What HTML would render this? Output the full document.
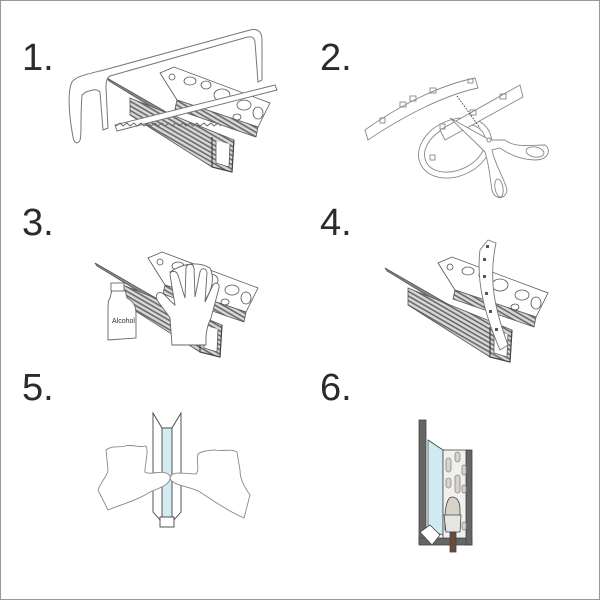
<!DOCTYPE html>
<html><head><style>
html,body{margin:0;padding:0;background:#fff}
svg{display:block}
text{font-family:"Liberation Sans",sans-serif}
</style></head><body>
<svg width="600" height="600" viewBox="0 0 600 600" xmlns="http://www.w3.org/2000/svg">
<defs>
<pattern id="st" width="4" height="4" patternUnits="userSpaceOnUse" patternTransform="rotate(30)">
<rect width="4" height="4" fill="#d8d8d8"/><rect width="4" height="1.6" fill="#6a6a6a"/>
</pattern>
<g id="prof" stroke="#555" stroke-width="0.8">
  <polygon points="95,263 215,332 215,338 97,266" fill="#888"/>
  <polygon points="118,283 222,325 220,357 200,352 118,300" fill="url(#st)"/>
  <polygon points="148,258 162,252 258,288 246,312 165,285" fill="#fff"/>
  <ellipse cx="178" cy="266" rx="6" ry="4" fill="#fff"/>
  <ellipse cx="194" cy="270" rx="5" ry="4" fill="#fff"/>
  <ellipse cx="210" cy="280" rx="8" ry="6" fill="#fff"/>
  <ellipse cx="232" cy="290" rx="7" ry="5" fill="#fff"/>
  <ellipse cx="246" cy="298" rx="5" ry="6" fill="#fff"/>
  <ellipse cx="225" cy="302" rx="4" ry="3" fill="#fff"/>
  <ellipse cx="160" cy="262" rx="3" ry="3" fill="#fff"/>
  <polygon points="165,285 246,312 244,322 163,294" fill="url(#st)"/>
  <path d="M200,322 L200,352 L220,357 L222,325" fill="none" stroke="#444" stroke-width="1.2"/>
  <path d="M204,326 L204,348 L217,352 L218,329" fill="#fff"/>
</g>
</defs>
<rect x="0.5" y="0.5" width="599" height="599" fill="#fff" stroke="#999"/>
<g font-size="38" fill="#2b2b2b">
<text x="22" y="70">1.</text>
<text x="320" y="70">2.</text>
<text x="22" y="235">3.</text>
<text x="320" y="235">4.</text>
<text x="22" y="400">5.</text>
<text x="320" y="400">6.</text>
</g>
<!-- Panel 1 -->
<use href="#prof" transform="translate(12,-185)"/>
<g fill="none" stroke="#777" stroke-width="1">
<path d="M73,137 C68,110 68,90 72,82 C76,76 88,74 104,70 L250,30 C258,28 262,32 262,40 L262,80 L258,82 L255,42 C254,36 250,36 244,38 L110,76 C106,78 106,84 106,88 L108,128 L103,130 L100,92 C96,88 92,90 86,92 L82,95 C80,120 82,135 80,140 C78,145 74,143 73,137 Z" fill="#fff"/>
<path d="M115,125 L275,85 L277,90 L117,131 Z" fill="#fff"/>
<path d="M116,126 l4,-3 l3,3 l4,-3 l3,3 l4,-3 l3,3 l4,-3 l3,3 l4,-3 l3,3 l4,-3 l3,3 l4,-3 l3,3 l4,-3 l3,3 l4,-3 l3,3 l4,-3 l3,3 l4,-3 l3,3 l4,-3 l3,3 l4,-3 l3,3 l4,-3 l3,3 l4,-3 l3,3" stroke="#666"/>
</g>
<!-- Panel 2 -->
<g fill="#fff" stroke="#888" stroke-width="0.9">
<path d="M365,130 C400,105 440,85 475,78 L478,88 C445,95 405,115 368,140 Z"/>
<ellipse cx="455" cy="148" rx="38" ry="28" transform="rotate(-25 455 148)" fill="none"/>
<ellipse cx="455" cy="148" rx="32" ry="22" transform="rotate(-25 455 148)" fill="none"/>
<path d="M440,130 L520,85 L523,97 L445,140 Z"/>
<g fill="none"><rect x="400" y="102" width="6" height="5"/><rect x="410" y="96" width="6" height="5"/><rect x="430" y="88" width="6" height="5"/><rect x="468" y="79" width="5" height="4"/><rect x="500" y="94" width="6" height="5"/><rect x="380" y="118" width="5" height="5"/><rect x="470" y="110" width="6" height="5"/><rect x="430" y="155" width="5" height="5"/><rect x="440" y="124" width="5" height="5"/></g>
<path d="M457,96 L480,128" stroke="#333" stroke-dasharray="1.5,1.5"/>
<path d="M450,118 L490,140 L505,140 C515,148 530,145 545,145 C552,150 548,160 535,160 C522,160 510,155 500,148 L492,150 C495,165 505,180 507,190 C506,200 494,200 492,190 C490,180 490,168 485,152 L478,145 Z"/>
<ellipse cx="535" cy="152" rx="9" ry="5" transform="rotate(10 535 152)"/>
<ellipse cx="499" cy="188" rx="4" ry="9" transform="rotate(-10 499 188)"/>
<circle cx="489" cy="140" r="2"/>
</g>
<!-- Panel 3 -->
<use href="#prof"/>
<g stroke="#666" stroke-width="0.9" fill="#fff">
<path d="M110,298 L112,290 L125,290 L127,298 C135,302 136,308 136,315 L136,338 L108,340 L108,312 C108,306 108,300 110,298 Z"/>
<rect x="111" y="283" width="13" height="8"/>
<path d="M170,272 C185,262 200,262 210,268 C215,278 212,290 205,300 L178,300 Z"/>
<path d="M172,345 L170,318 C162,305 152,298 158,293 C163,290 168,300 175,305 L170,275 C170,270 176,270 178,275 L185,298 L186,268 C187,263 193,263 194,268 L195,297 L200,272 C201,267 207,268 207,273 L205,302 L213,285 C216,281 220,284 219,288 L211,318 C205,330 206,340 206,345 Z"/>
</g>
<text x="112" y="323" font-size="7" fill="#333">Alcohol</text>
<!-- Panel 4 -->
<use href="#prof" transform="translate(290,5)"/>
<g fill="#fff" stroke="#777" stroke-width="0.9">
<path d="M480,250 L488,240 L496,243 C488,280 495,310 508,345 L500,350 C485,315 476,282 480,250 Z"/>
<g fill="#555" stroke="none"><rect x="483" y="258" width="3" height="3"/><rect x="483" y="275" width="3" height="3"/><rect x="485" y="292" width="3" height="3"/><rect x="489" y="310" width="3" height="3"/><rect x="495" y="328" width="3" height="3"/><rect x="486" y="245" width="3" height="3"/></g>
</g>
<!-- Panel 5 -->
<g stroke="#444" stroke-width="0.9">
<path d="M153,413 L162,428 L172,428 L181,413 L181,512 L172,522 L162,522 L153,512 Z" fill="#fff"/>
<rect x="162" y="428" width="10" height="94" fill="#d4ecf0"/>
<rect x="160" y="517" width="14" height="10" fill="#fff"/>
</g>
<g fill="#fff" stroke="#888" stroke-width="0.9">
<path d="M108,510 L98,490 C102,480 108,475 108,470 L106,450 C112,445 120,448 125,446 C132,444 140,448 145,446 C150,446 144,470 145,472 C150,476 165,468 170,476 C172,484 160,488 150,492 C138,500 120,505 108,510 Z"/>
<path d="M244,518 L250,495 C243,485 240,478 240,470 L237,452 C230,448 222,452 215,450 C208,450 200,452 198,454 C196,460 200,470 196,474 C185,474 172,470 170,478 C172,486 190,486 200,492 C215,502 230,512 244,518 Z"/>
</g>
<!-- Panel 6 -->
<g stroke="#444" stroke-width="0.8">
<rect x="419" y="420" width="7" height="124" fill="#666"/>
<rect x="419" y="538" width="53" height="7" fill="#666"/>
<rect x="466" y="450" width="6" height="95" fill="#666"/>
<polygon points="428,440 443,450 443,535 428,530" fill="#cfeaf2"/>
<rect x="443" y="450" width="23" height="88" fill="#f0f0f0"/>
<polygon points="420,532 430,525 440,535 432,545" fill="#fff"/>
<g fill="#d9d2c8" stroke="#888"><rect x="446" y="458" width="5" height="14" rx="2.5"/><rect x="455" y="452" width="5" height="10" rx="2.5"/><rect x="446" y="478" width="5" height="10" rx="2.5"/><rect x="455" y="475" width="5" height="18" rx="2.5"/><rect x="462" y="465" width="4" height="10" rx="2"/><rect x="462" y="485" width="4" height="8" rx="2"/><rect x="462" y="522" width="4" height="8" rx="2"/></g>
<path d="M445,530 C444,505 448,497 452,497 C456,497 460,500 460,510 L460,530 Z" fill="#d9d2c8"/>
<path d="M444,515 L461,515 L460,532 L446,532 Z" fill="#e6e6e6"/>
<rect x="450" y="532" width="6" height="20" fill="#6b4a3a"/>
</g>
</svg>
</body></html>
